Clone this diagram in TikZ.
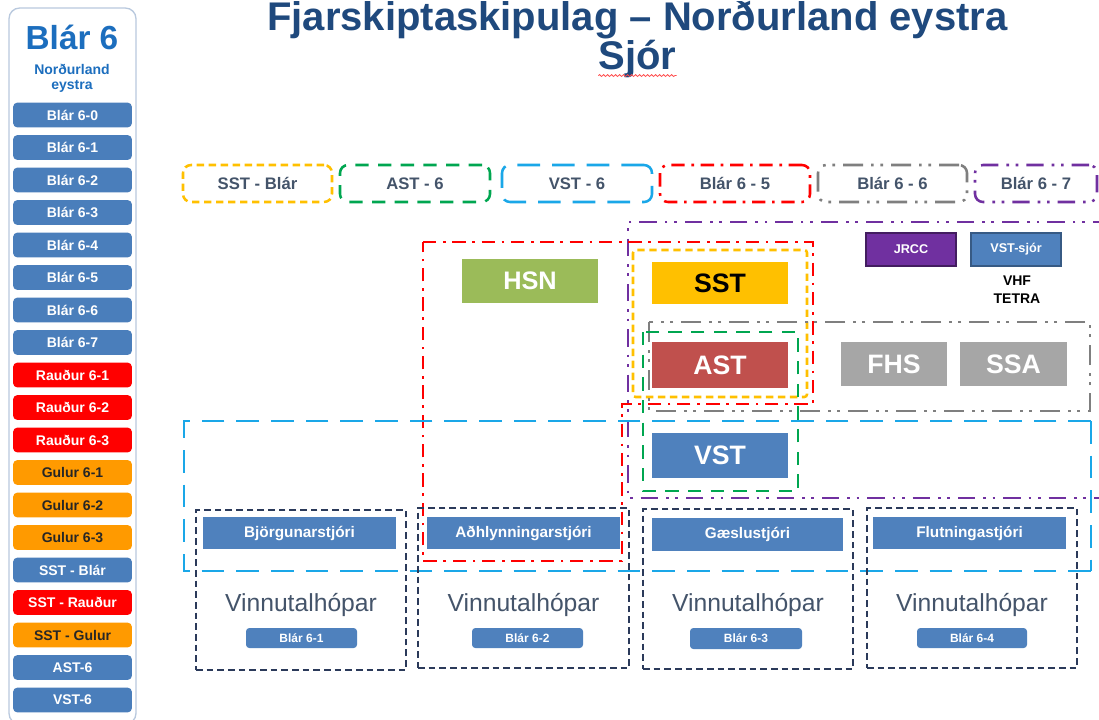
\documentclass[tikz,border=0pt]{standalone}
\usepackage{fontspec}
\setmainfont{Liberation Sans}
\setsansfont{Liberation Sans}
\usetikzlibrary{decorations.pathmorphing}
\definecolor{bA}{HTML}{4A7EBB}
\definecolor{rA}{HTML}{FF0000}
\definecolor{oA}{HTML}{FF9A00}
\definecolor{darkT}{HTML}{262626}
\definecolor{titleC}{HTML}{1F497D}
\definecolor{headC}{HTML}{1C6EBE}
\definecolor{lblC}{HTML}{44546A}
\definecolor{yD}{HTML}{FFC000}
\definecolor{gD}{HTML}{00A650}
\definecolor{cD}{HTML}{1AA7E8}
\definecolor{rD}{HTML}{FF0000}
\definecolor{grD}{HTML}{7F7F7F}
\definecolor{pD}{HTML}{7030A0}
\definecolor{nD}{HTML}{2B3A5A}
\definecolor{hsnC}{HTML}{9BBB59}
\definecolor{sstC}{HTML}{FFC000}
\definecolor{astC}{HTML}{C0504D}
\definecolor{vstC}{HTML}{4F81BD}
\definecolor{fhsC}{HTML}{A6A6A6}
\definecolor{jrC}{HTML}{7030A0}
\definecolor{panelC}{HTML}{B9C9DE}
\newcommand\fs[2]{\fontsize{#1}{#2}\selectfont}
% box from pixel corners (x1,y1)-(x2,y2)
\newcommand\rbx[7]{\node[#1, inner sep=0pt, minimum width={(#5-#3)*0.75pt}, minimum height={(#6-#4)*0.75pt}] (#2) at ({(#3+#5)/2},{(#4+#6)/2}) {#7};}
\tikzset{
  lbtn/.style={rounded corners=3pt, inner sep=0pt, minimum width=89pt, minimum height=18.5pt, font=\bfseries\fs{10.5}{12}},
  ydash/.style={draw=yD, line width=1.9pt, dash pattern=on 5.5pt off 3.5pt},
  gdash/.style={draw=gD, line width=1.9pt, dash pattern=on 10pt off 7pt},
  cdash/.style={draw=cD, line width=1.9pt, dash pattern=on 17pt off 9pt},
  rdd/.style={draw=rD, line width=1.9pt, dash pattern=on 10pt off 5pt on 2pt off 5pt},
  grdd/.style={draw=grD, line width=1.9pt, dash pattern=on 15pt off 6pt on 2pt off 5pt on 2pt off 6pt},
  pdd/.style={draw=pD, line width=1.9pt, dash pattern=on 13pt off 6pt on 2pt off 5pt on 2pt off 6pt},
  ndash/.style={draw=nD, line width=1.7pt, dash pattern=on 5pt off 3pt},
  toplbl/.style={rounded corners=6pt, text=lblC, font=\bfseries\fs{12.5}{14}},
  bigbox/.style={font=\bfseries\fs{20}{22}},
  hdr/.style={fill=vstC, text=white, font=\bfseries\fs{11.5}{13}},
  sbtn/.style={fill=vstC, rounded corners=2.5pt, text=white, font=\bfseries\fs{9}{10}},
  vinn/.style={inner sep=0pt, text=lblC, font=\fs{18.5}{20}}
}
\begin{document}
\begin{tikzpicture}[x=0.75pt,y=-0.75pt]
\useasboundingbox (0,0) rectangle (1099,719);
\fill[white] (0,0) rectangle (1099,719);

% title
\node[anchor=base, inner sep=0pt, text=titleC, font=\bfseries\fs{30}{34}] (title1) at (637.5,30.5) {Fjarskiptaskipulag – Norðurland eystra};
\node[anchor=base, inner sep=0pt, text=titleC, font=\bfseries\fs{30}{34}] (title2) at (637.5,69) {Sjór};
\draw[rD!70, line width=0.6pt, decorate, decoration={snake, amplitude=0.7pt, segment length=3pt}] (title2.south west) ++(0,-2) coordinate (sq1) -- (title2.south east |- sq1);

% left panel
\draw[panelC, line width=1pt, rounded corners=8pt] (9,8) rectangle (136,724);
\node[anchor=base, inner sep=0pt, text=headC, font=\bfseries\fs{25}{28}] (ph) at (72,49) {Blár 6};
\node[anchor=base, inner sep=0pt, text=headC, font=\bfseries\fs{10.5}{12}] (pn1) at (72,74) {Norðurland};
\node[anchor=base, inner sep=0pt, text=headC, font=\bfseries\fs{10.5}{12}] (pn2) at (72,89) {eystra};
\foreach \t/\c/\tc [count=\i from 0] in {
  Blár 6-0/bA/white, Blár 6-1/bA/white, Blár 6-2/bA/white, Blár 6-3/bA/white,
  Blár 6-4/bA/white, Blár 6-5/bA/white, Blár 6-6/bA/white, Blár 6-7/bA/white,
  Rauður 6-1/rA/white, Rauður 6-2/rA/white, Rauður 6-3/rA/white,
  Gulur 6-1/oA/darkT, Gulur 6-2/oA/darkT, Gulur 6-3/oA/darkT,
  SST - Blár/bA/white, SST - Rauður/rA/white, SST - Gulur/oA/darkT,
  AST-6/bA/white, VST-6/bA/white}
  \node[lbtn, fill=\c, text=\tc] (L\i) at (72.5,{115+32.5*\i}) {\t};

% top row
\rbx{toplbl, ydash}{tA}{183}{165}{332}{202}{SST - Blár}
\rbx{toplbl, gdash}{tB}{340}{165}{490}{202}{AST - 6}
\rbx{toplbl, cdash}{tC}{502}{165}{652}{202}{VST - 6}
\rbx{toplbl, rdd}{tD}{660}{165}{810}{202}{Blár 6 - 5}
\rbx{toplbl, grdd}{tE}{818}{165}{967}{202}{Blár 6 - 6}
\rbx{toplbl, pdd}{tF}{975}{165}{1097}{202}{Blár 6 - 7}

% big outlines
\draw[pdd] (1110,222) -- (628,222) -- (628,498) -- (1110,498);
\draw[rdd] (423,242) -- (813,242) -- (813,404) -- (622,404) -- (622,561) -- (423,561) -- cycle;
\draw[ydash, rounded corners=2pt] (633,250) rectangle (807,397);
\draw[grdd] (649,322) rectangle (1090,411);
\draw[gdash] (643,332) rectangle (798,491);
\draw[cdash] (1091,421) -- (184,421) -- (184,571) -- (1105,571);
\draw[cdash] (1091,421) -- (1091,571);

% navy groups
\rbx{ndash}{B1}{196}{510}{406}{670}{}
\rbx{ndash}{B2}{418}{508}{629}{668}{}
\rbx{ndash}{B3}{643}{509}{853}{669}{}
\rbx{ndash}{B4}{867}{508}{1077}{668}{}
\rbx{hdr}{H1}{203}{517}{396}{549}{Björgunarstjóri}
\rbx{hdr}{H2}{427}{517}{620}{549}{Aðhlynningarstjóri}
\rbx{hdr}{H3}{652}{518}{843}{551}{Gæslustjóri}
\rbx{hdr}{H4}{873}{517}{1066}{549}{Flutningastjóri}
\node[vinn] (V1) at (301,605) {Vinnutalhópar};
\node[vinn] (V2) at (523.5,605) {Vinnutalhópar};
\node[vinn] (V3) at (748,605) {Vinnutalhópar};
\node[vinn] (V4) at (972,605) {Vinnutalhópar};
\rbx{sbtn}{S1}{246}{628}{357}{648}{Blár 6-1}
\rbx{sbtn}{S2}{472}{628}{583}{648}{Blár 6-2}
\rbx{sbtn}{S3}{690}{628}{802}{649}{Blár 6-3}
\rbx{sbtn}{S4}{917}{628}{1027}{648}{Blár 6-4}

% filled boxes
\rbx{fill=hsnC, text=white, font=\bfseries\fs{19}{21}}{HSN}{462}{259}{598}{303}{HSN}
\rbx{bigbox, fill=sstC, text=black}{SST}{652}{262}{788}{304}{SST}
\rbx{bigbox, fill=astC, text=white}{AST}{652}{342}{788}{388}{AST}
\rbx{bigbox, fill=vstC, text=white}{VST}{652}{433}{788}{478}{VST}
\rbx{bigbox, fill=fhsC, text=white}{FHS}{841}{342}{947}{386}{FHS}
\rbx{bigbox, fill=fhsC, text=white}{SSA}{960}{342}{1067}{386}{SSA}
\rbx{fill=jrC, draw=jrC!60!black, line width=0.8pt, text=white, font=\bfseries\fs{9.5}{11}}{JRCC}{866}{233}{956}{266}{JRCC}
\rbx{fill=vstC, draw=vstC!70!black, line width=0.8pt, text=white, font=\bfseries\fs{9.5}{11}}{VSTs}{971}{233}{1061}{266}{VST-sjór}
\node[inner sep=0pt, align=center, font=\bfseries\fs{10.5}{13.5}, text=black] (VHF) at (1017,290) {VHF\\TETRA};
\end{tikzpicture}
\end{document}
